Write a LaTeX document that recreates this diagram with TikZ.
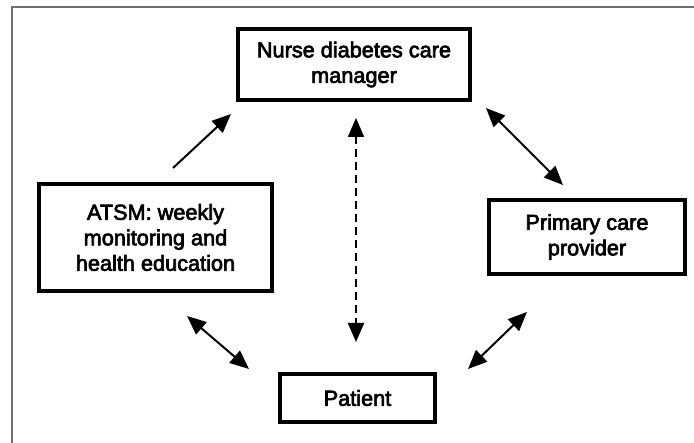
\documentclass[tikz,border=0pt]{standalone}
\usepackage{fontspec}
\setmainfont{Liberation Sans}
\newfontfamily\medfont[FakeBold=3]{Liberation Sans}
\usetikzlibrary{arrows.meta}
\definecolor{framegray}{HTML}{707070}
\tikzset{
  boxnode/.style={draw=black, line width=4pt, align=center, inner sep=0pt,
    font=\medfont\fontsize{21.7}{25.5}\selectfont},
  link/.style={line width=2pt, -{Triangle[length=19pt,width=16pt]}},
  duallink/.style={line width=2pt, {Triangle[length=19pt,width=16pt]}-{Triangle[length=19pt,width=16pt]}},
  dashlink/.style={duallink, dash pattern=on 8pt off 5pt}
}
\begin{document}
\begin{tikzpicture}[x=1pt,y=-1pt]
\useasboundingbox (0,0) rectangle (694,443);
\fill[white] (0,0) rectangle (694,443);
\draw[framegray, line width=1.6pt] (12,443) -- (12,7) -- (694,7);

\node[boxnode, minimum width=232pt, minimum height=71pt] (nurse) at (354,64.5) {Nurse diabetes care\\manager};
\node[boxnode, minimum width=233pt, minimum height=107pt] (atsm) at (155.5,237.5) {ATSM: weekly\\monitoring and\\health education};
\node[boxnode, minimum width=196pt, minimum height=74pt] (pcp) at (587,237) {Primary care\\provider};
\node[boxnode, minimum width=155pt, minimum height=48pt] (patient) at (357.5,398) {Patient};

\coordinate (a1) at (173,168);
\coordinate (a2) at (231,114);
\coordinate (b1) at (486,108);
\coordinate (b2) at (563,185);
\coordinate (c1) at (356,118);
\coordinate (c2) at (356,342);
\coordinate (d1) at (187,316);
\coordinate (d2) at (249,369);
\coordinate (e1) at (527,312);
\coordinate (e2) at (468,369);

\draw[link] (a1) -- (a2);
\draw[duallink] (b1) -- (b2);
\draw[dashlink] (c1) -- (c2);
\draw[duallink] (d1) -- (d2);
\draw[duallink] (e1) -- (e2);
\end{tikzpicture}
\end{document}
